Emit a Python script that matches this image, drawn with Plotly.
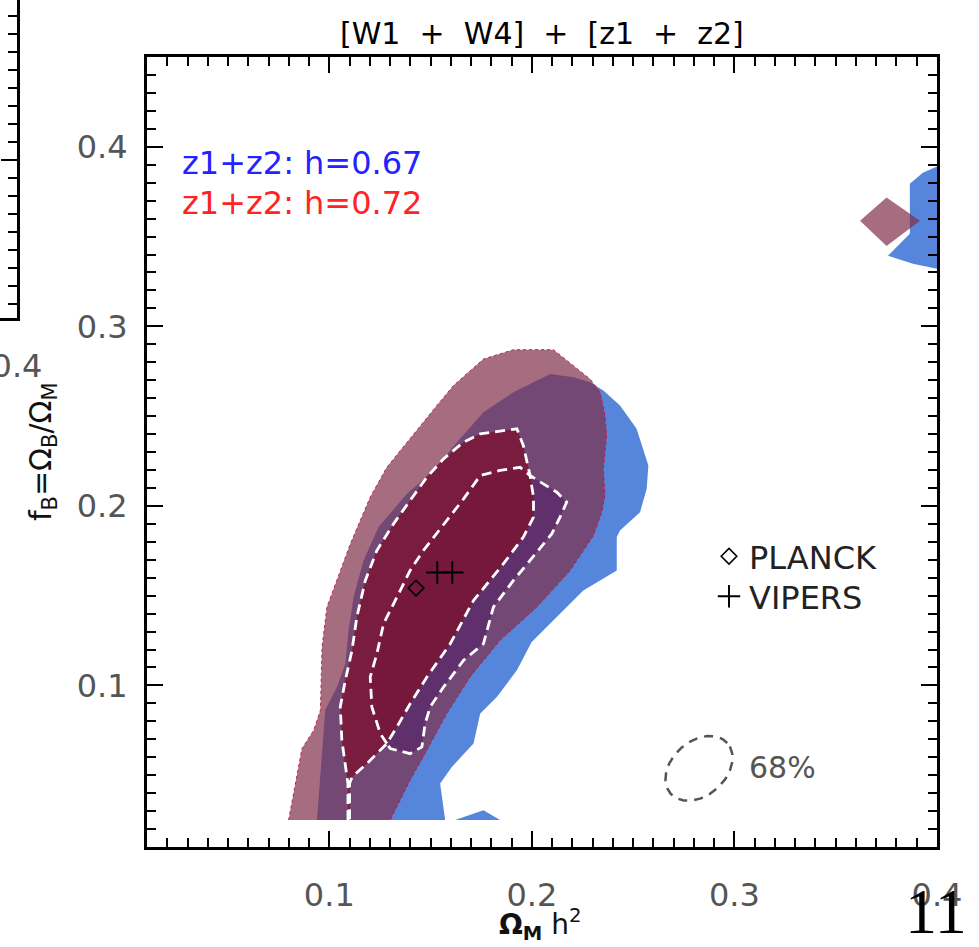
import numpy as np
import plotly.graph_objects as go

# ---------------- data (data units) ----------------
# h = 0.67 (blue) 95% region
blue95_x = [0.0939, 0.0980, 0.1038, 0.1079, 0.1095, 0.1120, 0.1169, 0.1243, 0.1383, 0.1449,
            0.1547, 0.1630, 0.1761, 0.1909, 0.2090, 0.2205, 0.2287, 0.2353, 0.2435, 0.2517,
            0.2575, 0.2567, 0.2534, 0.2435, 0.2419, 0.2419, 0.2254, 0.1999, 0.1926, 0.1827,
            0.1745, 0.1712, 0.1605, 0.1547, 0.1572]
blue95_y = [0.0250, 0.0861, 0.0991, 0.1121, 0.1306, 0.1492, 0.1696, 0.1882, 0.2067, 0.2132,
            0.2243, 0.2355, 0.2521, 0.2633, 0.2735, 0.2716, 0.2688, 0.2642, 0.2559, 0.2429,
            0.2225, 0.2095, 0.1965, 0.1863, 0.1826, 0.1640, 0.1529, 0.1242, 0.1084, 0.0936,
            0.0843, 0.0676, 0.0546, 0.0453, 0.0250]
blue95_bump_x = [0.1621, 0.1761, 0.1843]
blue95_bump_y = [0.0250, 0.0305, 0.0250]
blue95_blob_x = [0.4000, 0.3930, 0.3866, 0.3866, 0.3758, 0.3881, 0.4000]
blue95_blob_y = [0.3890, 0.3855, 0.3794, 0.3515, 0.3393, 0.3348, 0.3321]

# h = 0.67 (blue) 68% region
blue68_x = [0.1284, 0.1252, 0.1210, 0.1202, 0.1235, 0.1268, 0.1334, 0.1399, 0.1465, 0.1547,
            0.1663, 0.1745, 0.1843, 0.1942, 0.1991, 0.2123, 0.2172, 0.2139, 0.2098, 0.1991,
            0.1909, 0.1810, 0.1761, 0.1663, 0.1564, 0.1498, 0.1473, 0.1457, 0.1399, 0.1301]
blue68_y = [0.0676, 0.0731, 0.0880, 0.1047, 0.1177, 0.1344, 0.1492, 0.1640, 0.1752, 0.1872,
            0.2039, 0.2169, 0.2197, 0.2215, 0.2169, 0.2076, 0.2021, 0.1937, 0.1844, 0.1696,
            0.1585, 0.1436, 0.1232, 0.1140, 0.0991, 0.0880, 0.0787, 0.0657, 0.0620, 0.0648]

# h = 0.72 (red) 95% region
red95_x = [0.0799, 0.0824, 0.0865, 0.0923, 0.0956, 0.0964, 0.0988, 0.1104, 0.1202, 0.1284,
           0.1449, 0.1531, 0.1613, 0.1761, 0.1909, 0.2106, 0.2205, 0.2287, 0.2337, 0.2361,
           0.2369, 0.2353, 0.2361, 0.2345, 0.2304, 0.2189, 0.2024, 0.1843, 0.1695, 0.1580,
           0.1482, 0.1399, 0.1301]
red95_y = [0.0250, 0.0398, 0.0648, 0.0750, 0.0861, 0.1214, 0.1436, 0.1789, 0.2049, 0.2215,
           0.2447, 0.2559, 0.2670, 0.2818, 0.2870, 0.2870, 0.2781, 0.2707, 0.2633, 0.2503,
           0.2392, 0.2206, 0.2058, 0.1965, 0.1835, 0.1640, 0.1436, 0.1251, 0.1047, 0.0843,
           0.0639, 0.0472, 0.0250]
red95_blob_x = [0.3620, 0.3751, 0.3916, 0.3751]
red95_blob_y = [0.3588, 0.3717, 0.3588, 0.3448]

# h = 0.72 (red) 68% region
red68_x = [0.1092, 0.1092, 0.1062, 0.1054, 0.1079, 0.1112, 0.1136, 0.1178, 0.1235, 0.1317,
           0.1399, 0.1482, 0.1564, 0.1663, 0.1745, 0.1926, 0.1958, 0.1991, 0.2008, 0.2008,
           0.1958, 0.1860, 0.1712, 0.1597, 0.1482, 0.1399, 0.1334, 0.1284, 0.1186, 0.1112,
           0.1100, 0.1100]
red68_y = [0.0250, 0.0453, 0.0694, 0.0880, 0.1028, 0.1195, 0.1381, 0.1585, 0.1752, 0.1900,
           0.2030, 0.2160, 0.2262, 0.2355, 0.2401, 0.2429, 0.2336, 0.2169, 0.2049, 0.1937,
           0.1826, 0.1678, 0.1473, 0.1232, 0.1047, 0.0898, 0.0769, 0.0676, 0.0565, 0.0490,
           0.0453, 0.0250]

# reference points
planck_x = [0.1428]
planck_y = [0.1542]
vipers_x = [0.1533, 0.1607]
vipers_y = [0.1629, 0.1629]

# 68% key ellipse (centre in data units)
key_center = (0.2825, 0.0538)

x_ticks = [0.1, 0.2, 0.3, 0.4]
y_ticks = [0.1, 0.2, 0.3, 0.4]
x_range = [0.01, 0.40]
y_range = [0.01, 0.45]

# ---------------- styling ----------------
W, H = 979, 947
L, R, T, B = 147, 937, 57, 847
FONT = "DejaVu Sans"
TICKFONT = dict(family=FONT, size=32, color="#555555")
BLUE95 = "rgb(86,134,219)"
BLUE68 = "rgb(20,55,190)"
RED95 = "rgba(128,45,74,0.70)"
RED68 = "rgba(124,17,47,0.80)"

fig = go.Figure()


def area(x, y, color, line=None):
    fig.add_trace(go.Scatter(x=x, y=y, mode="lines", fill="toself", fillcolor=color,
                             line=line or dict(width=0), hoverinfo="skip", showlegend=False))


area(blue95_x, blue95_y, BLUE95)
area(blue95_bump_x, blue95_bump_y, BLUE95)
area(blue95_blob_x, blue95_blob_y, BLUE95)
area(blue68_x, blue68_y, BLUE68)
area(red95_x, red95_y, RED95, dict(width=1, color="rgba(200,20,50,0.9)", dash="3px,3px"))
area(red95_blob_x, red95_blob_y, RED95)
area(red68_x, red68_y, RED68)

# white dashed 68% outlines
for xs, ys in [(red68_x, red68_y), (blue68_x + blue68_x[:1], blue68_y + blue68_y[:1])]:
    fig.add_trace(go.Scatter(x=xs, y=ys, mode="lines",
                             line=dict(color="white", width=2.8, dash="10px,6px"),
                             hoverinfo="skip", showlegend=False))

# points
fig.add_trace(go.Scatter(x=planck_x, y=planck_y, mode="markers", name="PLANCK",
                         legend="legend",
                         marker=dict(symbol="diamond-open", size=12, color="black",
                                     line=dict(width=1.6, color="black"))))
fig.add_trace(go.Scatter(x=vipers_x, y=vipers_y, mode="markers", name="VIPERS",
                         legend="legend2",
                         marker=dict(symbol="cross-thin", size=16, color="black",
                                     line=dict(width=2, color="black"))))

# 68% key ellipse glyph
xpp = (x_range[1] - x_range[0]) / (R - L)
ypp = (y_range[1] - y_range[0]) / (B - T)
t = np.linspace(0, 2 * np.pi, 120)
a_px, b_px, th = 38, 27, np.deg2rad(42)
u, v = a_px * np.cos(t), b_px * np.sin(t)
ex = key_center[0] + (u * np.cos(th) - v * np.sin(th)) * xpp
ey = key_center[1] + (u * np.sin(th) + v * np.cos(th)) * ypp
fig.add_trace(go.Scatter(x=ex, y=ey, mode="lines", hoverinfo="skip", showlegend=False,
                         line=dict(color="#555555", width=2.5, dash="9px,7px")))

# neighbour panel fragment (left edge)
fig.add_trace(go.Scatter(x=[0.395], y=[0.1], xaxis="x2", yaxis="y2", mode="markers",
                         marker=dict(opacity=0), hoverinfo="skip", showlegend=False))

axis_common = dict(ticks="inside", ticklen=16, tickwidth=2, tickcolor="black",
                   showline=True, linecolor="black", linewidth=3, mirror="allticks",
                   showgrid=False, zeroline=False, tickfont=TICKFONT,
                   ticklabeloverflow="allow",
                   minor=dict(ticks="inside", tickmode="linear", tick0=0, dtick=0.01,
                              ticklen=9, tickwidth=2, tickcolor="black", showgrid=False))

legend_common = dict(x=709 / W, xanchor="left", yanchor="top", bgcolor="rgba(0,0,0,0)",
                     borderwidth=0, font=dict(family=FONT, size=32, color="#222222"))

fig.update_layout(
    width=W, height=H, autosize=False,
    margin=dict(l=0, r=0, t=0, b=0, autoexpand=False),
    paper_bgcolor="white", plot_bgcolor="white",
    xaxis=dict(domain=[L / W, R / W], range=x_range, tickmode="array", tickvals=x_ticks,
               ticktext=[f"{v:.1f}" for v in x_ticks], ticklabelstandoff=18, **axis_common),
    yaxis=dict(domain=[1 - B / H, 1 - T / H], range=y_range, tickmode="array", tickvals=y_ticks,
               ticktext=[f"{v:.1f}" for v in y_ticks], ticklabelstandoff=10, **axis_common),
    xaxis2=dict(domain=[0, 17 / W], range=[0.4 - 17 / 2027, 0.4 + 1e-9], anchor="y2",
                tickmode="array", tickvals=[0.4], ticktext=["0.4"], ticks="",
                showline=True, linecolor="black", linewidth=3, showgrid=False, zeroline=False,
                ticklabelstandoff=18, ticklabeloverflow="allow", tickfont=TICKFONT),
    yaxis2=dict(domain=[1 - 318 / H, 1], range=[0.0121, 0.1891], anchor="x2", side="right",
                tickmode="linear", tick0=0, dtick=0.1, ticks="inside", ticklen=16, tickwidth=2,
                tickcolor="black", showticklabels=False, showline=True, linecolor="black",
                linewidth=3, showgrid=False, zeroline=False,
                minor=dict(ticks="inside", tickmode="linear", tick0=0, dtick=0.01,
                           ticklen=9, tickwidth=2, tickcolor="black")),
    showlegend=True,
    legend=dict(y=1 - 529 / H, **legend_common),
    legend2=dict(y=1 - 569 / H, **legend_common),
)

sp = "\u00a0\u00a0"
ann = [
    dict(text=f"[W1{sp}+{sp}W4]{sp}+{sp}[z1{sp}+{sp}z2]", x=542 / W, y=1 - 33 / H,
         font=dict(family=FONT, size=30, color="black")),
    dict(text="z1+z2: h=0.67", x=180 / W, y=1 - 163 / H, xanchor="left",
         font=dict(family=FONT, size=32, color="rgb(35,35,255)")),
    dict(text="z1+z2: h=0.72", x=180 / W, y=1 - 203 / H, xanchor="left",
         font=dict(family=FONT, size=32, color="rgb(255,35,35)")),
    dict(text="68%", x=747 / W, y=1 - 767 / H, xanchor="left",
         font=dict(family=FONT, size=30, color="#555555")),
    dict(text="<b>Ω<sub>M</sub></b> h<sup>2</sup>", x=540 / W, y=1 - 924 / H,
         font=dict(family=FONT, size=28, color="#111111")),
    dict(text="f<sub>B</sub>=Ω<sub>B</sub>/Ω<sub>M</sub>", x=42 / W, y=1 - 452 / H,
         textangle=-90, font=dict(family=FONT, size=30, color="#111111")),
    dict(text="11", x=936 / W, y=1 - 911 / H,
         font=dict(family="Liberation Serif", size=64, color="black")),
]
for a in ann:
    a.update(xref="paper", yref="paper", showarrow=False)
    a.setdefault("xanchor", "center")
    a.setdefault("yanchor", "middle")
fig.update_layout(annotations=ann)

fig.write_html("out.html", config={"responsive": False})
